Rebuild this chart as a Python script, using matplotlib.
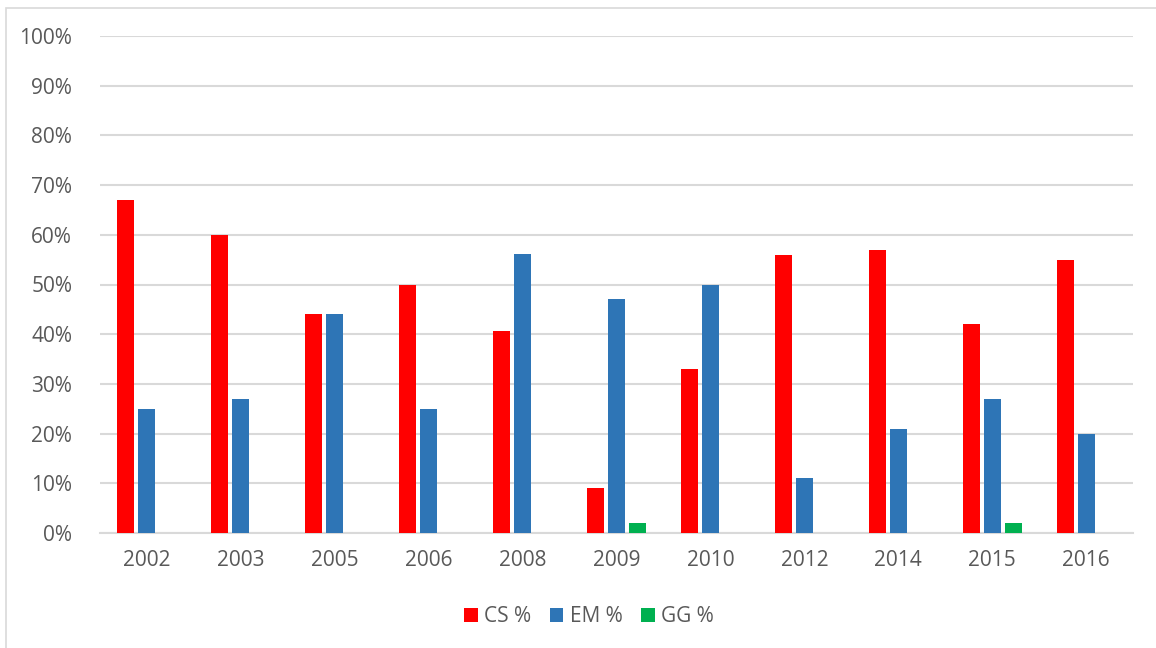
import matplotlib
matplotlib.use("Agg")
import matplotlib.pyplot as plt
from matplotlib.patches import Rectangle
from matplotlib.ticker import MultipleLocator, FuncFormatter
import numpy as np

years = ["2002", "2003", "2005", "2006", "2008", "2009", "2010", "2012", "2014", "2015", "2016"]
cs_pct = [67, 60, 44, 50, 40.6, 9, 33, 56, 57, 42, 55]
em_pct = [25, 27, 44, 25, 56.2, 47, 50, 11, 21, 27, 20]
gg_pct = [0, 0, 0, 0, 0, 2, 0, 0, 0, 2, 0]

series = [("CS %", cs_pct, "#FF0000"),
          ("EM %", em_pct, "#2E75B6"),
          ("GG %", gg_pct, "#00B050")]

plt.rcParams["font.family"] = ["Open Sans", "DejaVu Sans"]
text_color = "#595959"
grid_color = "#D9D9D9"

fig = plt.figure(figsize=(11.56, 6.48), dpi=100)
ax = fig.add_axes([100 / 1156, 1 - 533 / 648, (1133 - 100) / 1156, (533 - 36) / 648])

# Light chart-area frame
fig.patches.append(Rectangle((5.5 / 1156, -0.1), 1.2, 1.1 - 7.5 / 648,
                             transform=fig.transFigure, fill=False,
                             edgecolor="#D9D9D9", linewidth=1.2))

x = np.arange(len(years))
width = 0.181
step = 0.2236
for i, (name, vals, color) in enumerate(series):
    ax.bar(x + (i - 1) * step, vals, width=width, color=color, label=name, zorder=3)

ax.set_xlim(-0.5, len(years) - 0.5)
ax.set_ylim(0, 100)
ax.yaxis.set_major_locator(MultipleLocator(10))
ax.yaxis.set_major_formatter(FuncFormatter(lambda v, _: f"{int(v)}%"))
ax.set_xticks(x)
ax.set_xticklabels(years)

ax.grid(axis="y", color=grid_color, linewidth=1.5, zorder=0)
for s in ["top", "right", "left"]:
    ax.spines[s].set_visible(False)
ax.spines["bottom"].set_color(grid_color)
ax.spines["bottom"].set_linewidth(1.5)
ax.tick_params(axis="both", length=0, labelsize=15, labelcolor=text_color)
ax.tick_params(axis="x", pad=12)
ax.tick_params(axis="y", pad=20)

leg = fig.legend(loc="center", bbox_to_anchor=(589 / 1156, 1 - 617 / 648), ncol=3,
                 frameon=False, fontsize=15, handlelength=0.65, handleheight=0.65,
                 handletextpad=0.3, columnspacing=0.9)
for t in leg.get_texts():
    t.set_color(text_color)

fig.savefig("out.png", dpi=100)
